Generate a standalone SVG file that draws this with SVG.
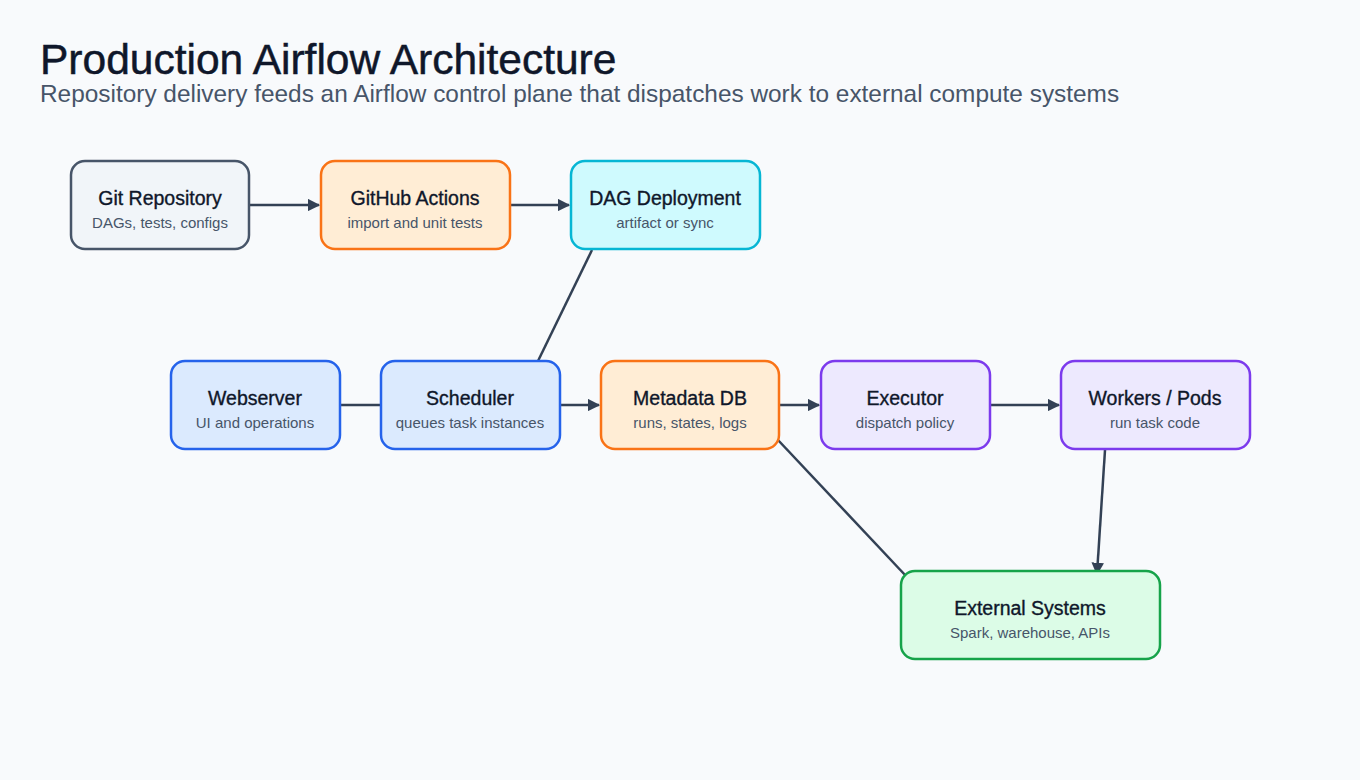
<svg xmlns="http://www.w3.org/2000/svg" width="1360" height="780" viewBox="0 0 1360 780">
<style>
.t{font-family:"Liberation Sans",Arial,sans-serif;font-size:19.5px;fill:#0f172a;stroke:#0f172a;stroke-width:0.35;text-anchor:middle}
.s{font-family:"Liberation Sans",Arial,sans-serif;font-size:15px;fill:#475569;text-anchor:middle}
.n{stroke-width:2.5}
.c{stroke:#334155;stroke-width:2.5;fill:none}
</style>
<defs><marker id="a" viewBox="0 0 10 10" refX="9" refY="5" markerWidth="5" markerHeight="5" orient="auto"><path d="M0,0L10,5L0,10z" fill="#334155"/></marker></defs>
<rect width="1360" height="780" fill="#f8fafc"/>
<text x="40" y="74" font-family="Liberation Sans,Arial,sans-serif" font-size="42.5" fill="#0f172a" stroke="#0f172a" stroke-width="0.5">Production Airflow Architecture</text>
<text x="40" y="102" font-family="Liberation Sans,Arial,sans-serif" font-size="24.4" fill="#475569">Repository delivery feeds an Airflow control plane that dispatches work to external compute systems</text>
<g id="connectors">
<line class="c" x1="249" y1="205" x2="319" y2="205" marker-end="url(#a)"/>
<line class="c" x1="510" y1="205" x2="569" y2="205" marker-end="url(#a)"/>
<line class="c" x1="592" y1="250" x2="538" y2="361"/>
<line class="c" x1="340" y1="405" x2="381" y2="405"/>
<line class="c" x1="560" y1="405" x2="599" y2="405" marker-end="url(#a)"/>
<line class="c" x1="779" y1="405" x2="819" y2="405" marker-end="url(#a)"/>
<line class="c" x1="990" y1="405" x2="1059" y2="405" marker-end="url(#a)"/>
<line class="c" x1="778" y1="440" x2="906" y2="576"/>
<line class="c" x1="1105" y1="450" x2="1097" y2="574" marker-end="url(#a)"/>
</g>
<g id="git"><rect class="n" x="71" y="161" width="178" height="88" rx="14" fill="#f1f5f9" stroke="#475569"/><text class="t" x="160" y="205">Git Repository</text><text class="s" x="160" y="228">DAGs, tests, configs</text></g>
<g id="gha"><rect class="n" x="321" y="161" width="189" height="88" rx="14" fill="#ffedd5" stroke="#f97316"/><text class="t" x="415" y="205">GitHub Actions</text><text class="s" x="415" y="228">import and unit tests</text></g>
<g id="deploy"><rect class="n" x="571" y="161" width="189" height="88" rx="14" fill="#cffafe" stroke="#06b6d4"/><text class="t" x="665" y="205">DAG Deployment</text><text class="s" x="665" y="228">artifact or sync</text></g>
<g id="web"><rect class="n" x="171" y="361" width="169" height="88" rx="14" fill="#dbeafe" stroke="#2563eb"/><text class="t" x="255" y="405">Webserver</text><text class="s" x="255" y="428">UI and operations</text></g>
<g id="sched"><rect class="n" x="381" y="361" width="179" height="88" rx="14" fill="#dbeafe" stroke="#2563eb"/><text class="t" x="470" y="405">Scheduler</text><text class="s" x="470" y="428">queues task instances</text></g>
<g id="meta"><rect class="n" x="601" y="361" width="178" height="88" rx="14" fill="#ffedd5" stroke="#f97316"/><text class="t" x="690" y="405">Metadata DB</text><text class="s" x="690" y="428">runs, states, logs</text></g>
<g id="exec"><rect class="n" x="821" y="361" width="169" height="88" rx="14" fill="#ede9fe" stroke="#7c3aed"/><text class="t" x="905" y="405">Executor</text><text class="s" x="905" y="428">dispatch policy</text></g>
<g id="workers"><rect class="n" x="1061" y="361" width="189" height="88" rx="14" fill="#ede9fe" stroke="#7c3aed"/><text class="t" x="1155" y="405">Workers / Pods</text><text class="s" x="1155" y="428">run task code</text></g>
<g id="ext"><rect class="n" x="901" y="571" width="259" height="88" rx="14" fill="#dcfce7" stroke="#16a34a"/><text class="t" x="1030" y="615">External Systems</text><text class="s" x="1030" y="638">Spark, warehouse, APIs</text></g>
</svg>
